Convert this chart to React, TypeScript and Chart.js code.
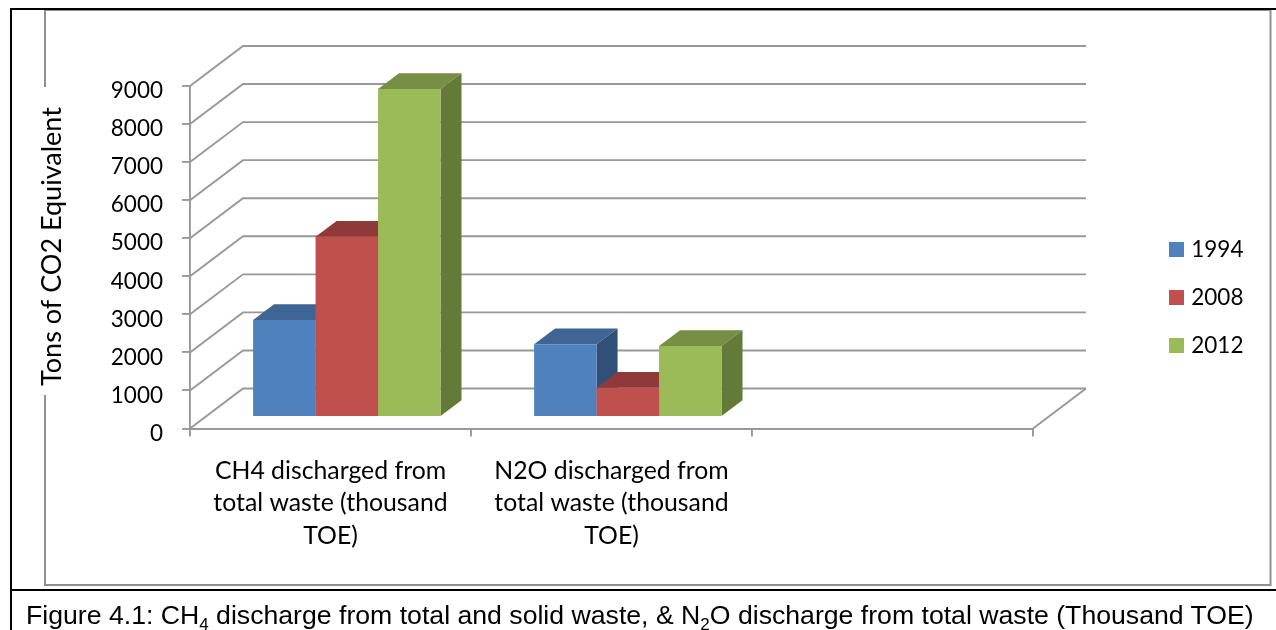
import React, { useEffect, useRef } from "react";
import { Chart, registerables } from "chart.js";

Chart.register(...registerables);

const categories = [
  ["CH4 discharged from", "total waste (thousand", "TOE)"],
  ["N2O discharged from", "total waste (thousand", "TOE)"],
  "",
];
const years = ["1994", "2008", "2012"];
const values1994 = [2550, 1913, null];
const values2008 = [4737, 771, null];
const values2012 = [8618, 1868, null];
const frontColors = ["#4F81BD", "#C0504D", "#9BBB59"];
const topColors = ["#3E6593", "#8F3A38", "#778F45"];
const sideColors = ["#30507A", "#7E3331", "#647A38"];
const yAxisTitle = "Tons of CO2 Equivalent";

const GRID = "#989898";
const LINE = 1.9;
const FONT = "Lato";
const WALL = { dx: 53, dy: -40 };
const BAR_SHIFT = { dx: 16.3, dy: -11.5 };
const BAR_DEPTH = { dx: 21, dy: -15.7 };

function poly(ctx: CanvasRenderingContext2D, pts: number[][], color: string) {
  ctx.beginPath();
  pts.forEach(([x, y], i) => (i ? ctx.lineTo(x, y) : ctx.moveTo(x, y)));
  ctx.closePath();
  ctx.fillStyle = color;
  ctx.fill();
}

function seg(ctx: CanvasRenderingContext2D, color: string, width: number, pts: number[][]) {
  ctx.beginPath();
  pts.forEach(([x, y], i) => (i ? ctx.lineTo(x, y) : ctx.moveTo(x, y)));
  ctx.strokeStyle = color;
  ctx.lineWidth = width;
  ctx.stroke();
}

const framePlugin = {
  id: "frame",
  beforeDraw(chart: any) {
    const ctx = chart.ctx;
    ctx.save();
    ctx.fillStyle = "#fff";
    ctx.fillRect(0, 0, chart.width, chart.height);
    seg(ctx, "#8f8f8f", 2, [[45, 87], [45, 10], [1270.5, 10], [1270.5, 585], [45, 585], [45, 395]]);
    seg(ctx, "#000", 2, [[11, 630], [11, 9], [1276, 9]]);
    seg(ctx, "#000", 2, [[11, 590], [1276, 590]]);
    ctx.translate(52.5, 246.5);
    ctx.rotate(-Math.PI / 2);
    ctx.font = `27px ${FONT}`;
    ctx.textAlign = "center";
    ctx.textBaseline = "middle";
    ctx.fillStyle = "#000";
    ctx.fillText(yAxisTitle, 0, 0);
    ctx.restore();
  },
  beforeDatasetsDraw(chart: any) {
    const ctx = chart.ctx;
    const { left, right, bottom } = chart.chartArea;
    const yScale = chart.scales.y;
    ctx.save();
    yScale.ticks.forEach((t: any) => {
      const y = yScale.getPixelForValue(t.value);
      seg(ctx, GRID, LINE, [[left, y], [left + WALL.dx, y + WALL.dy], [right + WALL.dx, y + WALL.dy]]);
    });
    seg(ctx, GRID, LINE, [[right, bottom], [right + WALL.dx, bottom + WALL.dy]]);
    ctx.restore();
  },
  // Chart.js paints the first dataset last; here the boxes must stack left to right.
  beforeDatasetDraw() {
    return false;
  },
  afterDatasetsDraw(chart: any) {
    const ctx = chart.ctx;
    ctx.save();
    ctx.translate(BAR_SHIFT.dx, BAR_SHIFT.dy);
    years.forEach((_, i) => {
      const meta = chart.getDatasetMeta(i);
      meta.data.forEach((bar: any) => {
        const { x, y, base, width } = bar.getProps(["x", "y", "base", "width"], true);
        if (y === null || Number.isNaN(y) || Math.abs(base - y) < 0.5) return;
        const l = x - width / 2;
        const r = x + width / 2;
        poly(ctx, [[l, y], [r, y], [r + BAR_DEPTH.dx, y + BAR_DEPTH.dy], [l + BAR_DEPTH.dx, y + BAR_DEPTH.dy]], topColors[i]);
        poly(ctx, [[r, y], [r, base], [r + BAR_DEPTH.dx, base + BAR_DEPTH.dy], [r + BAR_DEPTH.dx, y + BAR_DEPTH.dy]], sideColors[i]);
      });
      meta.controller.draw();
    });
    ctx.restore();
  },
  afterLayout(chart: any) {
    const l = chart.legend;
    const pad = l.options.labels.padding;
    const h = l.options.labels.font.size;
    l.left = 1173 - pad;
    l.right = l.left + 110;
    l.top = 249.5 - h / 2 - pad;
    l.bottom = l.top + 200;
  },
};

export default function App() {
  const ref = useRef<HTMLCanvasElement>(null);
  useEffect(() => {
    const chart = new Chart(ref.current!, {
      type: "bar",
      data: {
        labels: categories as any,
        datasets: [values1994, values2008, values2012].map((data, i) => ({
          label: years[i],
          data,
          backgroundColor: frontColors[i],
          borderWidth: 0,
          categoryPercentage: 0.667,
          barPercentage: 1,
          pointStyle: "rect",
        })),
      },
      options: {
        responsive: false,
        animation: false,
        layout: { padding: { top: 86, right: 243, left: 0, bottom: 0 } },
        plugins: {
          tooltip: { enabled: false },
          legend: {
            position: "chartArea" as any,
            align: "start",
            labels: {
              usePointStyle: true,
              boxWidth: 7,
              boxHeight: 15,
              padding: 25.5,
              color: "#000",
              font: { family: FONT, size: 22.5 },
            },
          },
        },
        scales: {
          x: {
            afterFit: (s: any) => {
              s.height = 201.5;
            },
            grid: { drawOnChartArea: false, color: GRID, lineWidth: LINE, tickLength: 8, offset: true },
            border: { color: GRID, width: LINE },
            ticks: {
              autoSkip: false,
              maxRotation: 0,
              padding: 18,
              color: "#000",
              font: { family: FONT, size: 24.8, lineHeight: 1.31 },
            },
          },
          y: {
            min: 0,
            max: 9000,
            afterFit: (s: any) => {
              s.width = 190;
            },
            grid: { drawOnChartArea: false, color: GRID, lineWidth: LINE, tickLength: 8 },
            border: { color: GRID, width: LINE },
            ticks: {
              stepSize: 1000,
              padding: 19,
              labelOffset: 5,
              color: "#000",
              font: { family: FONT, size: 22.5 },
              callback: (v: any) => String(v),
            },
          },
        },
      },
      plugins: [framePlugin],
    });
    return () => chart.destroy();
  }, []);

  return (
    <>
      <canvas ref={ref} width={1276} height={630} style={{ position: "absolute", left: 0, top: 0, display: "block" }} />
      <div
        style={{
          position: "absolute",
          left: 26,
          top: 601,
          whiteSpace: "nowrap",
          fontFamily: "'Liberation Sans'",
          fontSize: 26.65,
          lineHeight: "28px",
          color: "#000",
        }}
      >
        Figure 4.1: CH<sub style={{ fontSize: 17, lineHeight: 0 }}>4</sub> discharge from total and solid waste, &amp; N
        <sub style={{ fontSize: 17, lineHeight: 0 }}>2</sub>O discharge from total waste (Thousand TOE)
      </div>
    </>
  );
}
